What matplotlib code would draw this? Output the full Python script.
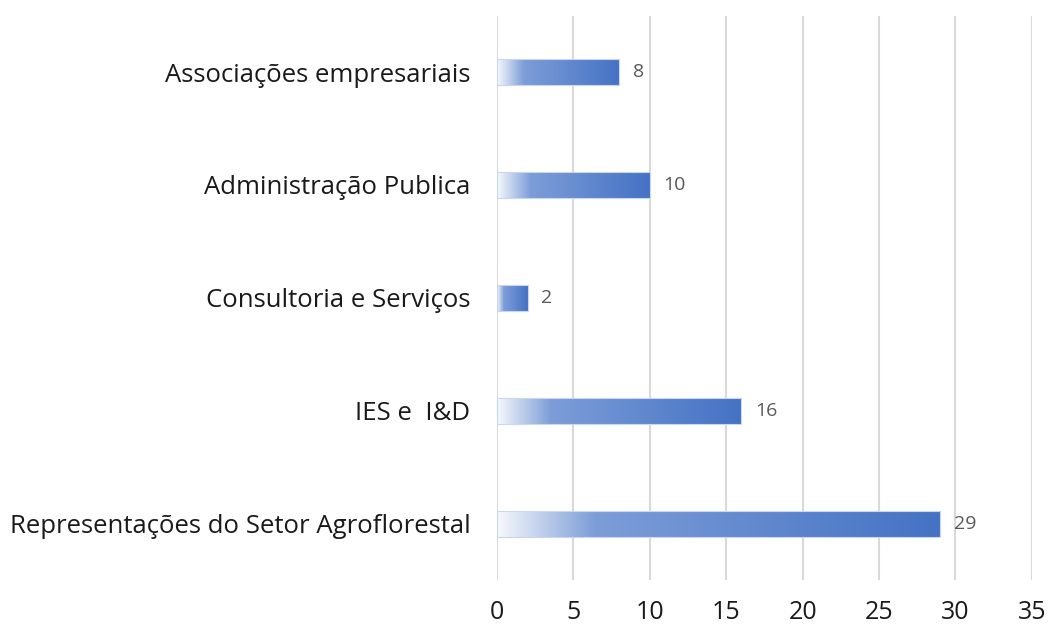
import matplotlib
matplotlib.use("Agg")
import matplotlib.pyplot as plt
import numpy as np
from matplotlib.colors import LinearSegmentedColormap

categories = [
    "Representações do Setor Agroflorestal",
    "IES e  I&D",
    "Consultoria e Serviços",
    "Administração Publica",
    "Associações empresariais",
]
values = [29, 16, 2, 10, 8]
x_ticks = [0, 5, 10, 15, 20, 25, 30, 35]

plt.rcParams["font.family"] = ["Open Sans", "DejaVu Sans"]

# white -> light blue -> Excel blue, along each bar
grad_cmap = LinearSegmentedColormap.from_list(
    "bar_grad",
    [(0.0, "#f6f8fc"), (0.22, "#7d9dd8"), (1.0, "#4472c4")],
)

fig = plt.figure(figsize=(10.54, 6.33), dpi=100, facecolor="white")
ax = fig.add_axes([0.4715, 0.083, 0.5075, 0.8925])

bar_h = 0.23
y_pos = np.arange(len(categories))
bars = ax.barh(y_pos, values, height=bar_h, color="none", edgecolor="#c9d6ef",
               linewidth=0.8, zorder=3)

gradient = np.linspace(0, 1, 256).reshape(1, -1)
for bar, val in zip(bars, values):
    y0 = bar.get_y()
    im = ax.imshow(gradient, cmap=grad_cmap, aspect="auto",
                   extent=(0, val, y0, y0 + bar_h), zorder=2,
                   interpolation="bilinear")
    im.set_clip_path(bar)
    ax.text(val + 0.9, y0 + bar_h / 2, str(val), va="center", ha="left",
            fontsize=14, color="#595959")

ax.set_xlim(0, 35)
ax.set_ylim(-0.5, len(categories) - 0.5)
ax.set_xticks(x_ticks)
ax.set_yticks(y_pos)
ax.set_yticklabels(categories, fontsize=18.5, color="#1a1a1a")
ax.tick_params(axis="x", labelsize=18, colors="#1a1a1a", length=0, pad=14)
ax.tick_params(axis="y", length=0, pad=19)
ax.xaxis.grid(True, color="#d9d9d9", linewidth=1.5)
ax.set_axisbelow(True)
for s in ax.spines.values():
    s.set_visible(False)

fig.savefig("out.png", dpi=100, facecolor="white")
